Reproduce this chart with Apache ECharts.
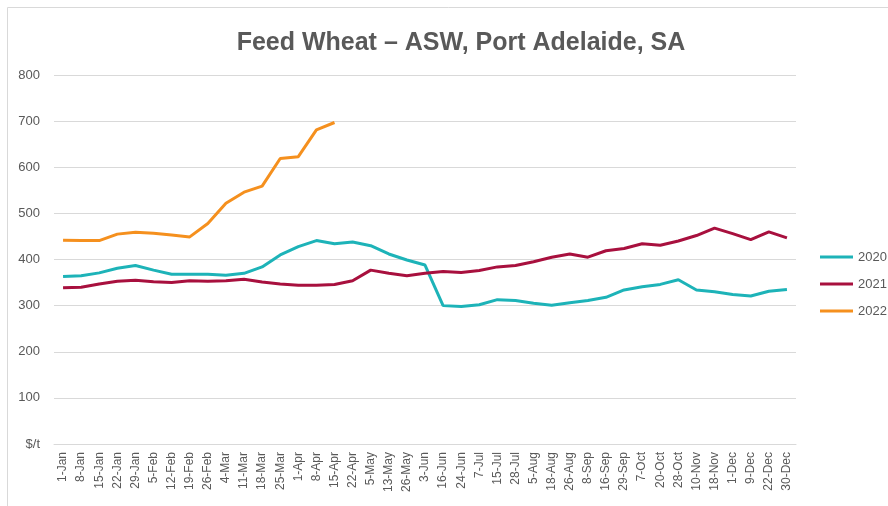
<!DOCTYPE html>
<html>
  <head>
    <meta charset="utf-8">
    <title>Feed Wheat – ASW, Port Adelaide, SA</title>
    <script src="https://cdn.jsdelivr.net/npm/echarts@6/dist/echarts.min.js"></script>
  </head>
  <body style="margin:0;">
    <div id="main" style="width:888px;height:506px;"></div>
    <script type="text/javascript">
      // category labels along the x axis
      var dates = ['1-Jan', '8-Jan', '15-Jan', '22-Jan', '29-Jan', '5-Feb', '12-Feb', '19-Feb', '26-Feb',
        '4-Mar', '11-Mar', '18-Mar', '25-Mar', '1-Apr', '8-Apr', '15-Apr', '22-Apr', '5-May', '13-May',
        '26-May', '3-Jun', '16-Jun', '24-Jun', '7-Jul', '15-Jul', '28-Jul', '5-Aug', '18-Aug', '26-Aug',
        '8-Sep', '16-Sep', '29-Sep', '7-Oct', '20-Oct', '28-Oct', '10-Nov', '18-Nov', '1-Dec', '9-Dec',
        '22-Dec', '30-Dec'];

      // $/t
      var y2020 = [363, 365, 371, 381, 387, 377, 368, 368, 368, 366, 370, 384, 410, 428, 441, 434, 438,
        430, 412, 399, 388, 300, 298, 302, 313, 311, 305, 301, 306, 311, 318, 334, 341, 346, 356, 334,
        330, 324, 321, 331, 335];
      var y2021 = [339, 340, 347, 353, 355, 352, 350, 354, 353, 354, 357, 351, 347, 344, 344, 346, 354,
        377, 370, 365, 370, 374, 372, 376, 384, 387, 395, 405, 412, 405, 419, 424, 434, 431, 440, 452,
        468, 456, 443, 460, 447];
      var y2022 = [442, 441, 441, 455, 459, 457, 453, 449, 478, 522, 546, 559, 619, 623, 681, 697];

      var yTicks = [0, 100, 200, 300, 400, 500, 600, 700, 800];

      var grey = '#595959';
      var font = 'Liberation Sans';

      var myChart = echarts.init(document.getElementById('main'));

      function line(name, data, color) {
        return {
          name: name,
          type: 'line',
          data: data,
          symbol: 'none',
          smooth: false,
          lineStyle: {width: 3, color: color},
          itemStyle: {color: color}
        };
      }

      myChart.setOption({
        animation: false,
        title: {
          text: 'Feed Wheat \u2013 ASW, Port Adelaide, SA',
          left: 456,
          top: 26,
          textAlign: 'center',
          textStyle: {
            color: grey,
            fontSize: 25,
            fontWeight: 'bold',
            fontFamily: font
          }
        },
        graphic: [{
          type: 'rect',
          shape: {x: 7.5, y: 7.5, width: 900, height: 520},
          style: {fill: null, stroke: '#d9d9d9', lineWidth: 1}
        }],
        legend: {
          orient: 'vertical',
          left: 820,
          top: 250,
          padding: 0,
          itemWidth: 33,
          itemHeight: 3,
          itemGap: 13,
          icon: 'rect',
          data: ['2020', '2021', '2022'],
          textStyle: {color: grey, fontSize: 13, fontFamily: font, lineHeight: 14}
        },
        grid: {
          left: 54,
          right: 92,
          top: 75,
          bottom: 62
        },
        xAxis: {
          type: 'category',
          boundaryGap: true,
          data: dates,
          axisTick: {show: false},
          axisLine: {lineStyle: {color: '#d9d9d9'}},
          axisLabel: {
            interval: 0,
            rotate: 90,
            margin: 8,
            color: grey,
            fontSize: 12,
            fontFamily: font
          }
        },
        yAxis: {
          type: 'value',
          min: yTicks[0],
          max: yTicks[yTicks.length - 1],
          interval: 100,
          axisLine: {show: false},
          axisTick: {show: false},
          axisLabel: {
            margin: 14,
            color: grey,
            fontSize: 13,
            fontFamily: font,
            formatter: function(v) {
              return v === 0 ? '$/t' : v;
            }
          },
          splitLine: {lineStyle: {color: '#d9d9d9'}}
        },
        series: [
          line('2020', y2020, '#1db3b8'),
          line('2021', y2021, '#a8103e'),
          line('2022', y2022, '#f5901e')
        ]
      });
    </script>
  </body>
</html>
